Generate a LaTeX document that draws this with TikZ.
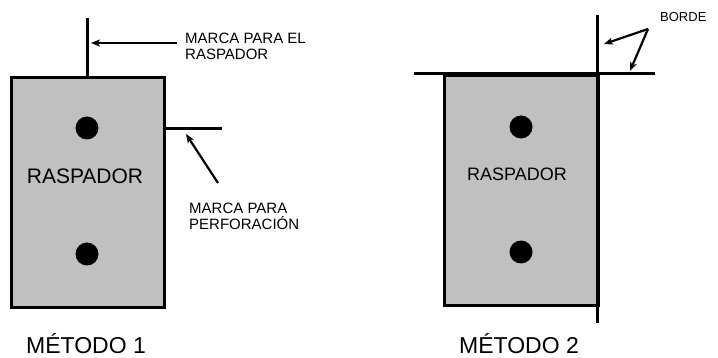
\documentclass[tikz,border=0pt]{standalone}
\usepackage{fontspec}
\setmainfont{Liberation Sans}
\usetikzlibrary{arrows.meta}
\definecolor{plate}{HTML}{C0C0C0}
\begin{document}
\begin{tikzpicture}[x=1pt,y=-1pt,
  platebox/.style={draw=black,fill=plate,line width=3pt},
  markline/.style={line width=3pt},
  hole/.style={circle,fill=black,minimum size=23pt,inner sep=0pt},
  callout/.style={line width=2.2pt,-{Stealth[length=9pt,width=7pt,inset=2.5pt]}},
  note/.style={font=\fontsize{15}{16}\selectfont,align=left,inner sep=0pt},
  title/.style={font=\fontsize{23}{24}\selectfont,inner sep=0pt,anchor=base}]
\useasboundingbox (0,0) rectangle (718,358);
% ---------- Method 1 ----------
\coordinate (m1top) at (87,18);
\coordinate (m1bot) at (87,76);
\draw[markline] (m1top) -- (m1bot);
\node[platebox,minimum width=153pt,minimum height=230pt,anchor=north west,inner sep=0pt] (p1) at (10,76) {};
\coordinate (h1a) at (163,129);
\coordinate (h1b) at (222,129);
\draw[markline] (h1a) -- (h1b);
\node[hole] (d1a) at (87,128) {};
\node[hole] (d1b) at (87,254) {};
\node[font=\fontsize{21}{22}\selectfont,inner sep=0pt] (r1) at (85,176) {RASPADOR};
\node[note,anchor=west] (n1) at (185,46) {MARCA PARA EL\\RASPADOR};
\coordinate (a1s) at (177,43);
\coordinate (a1e) at (91,43);
\draw[callout] (a1s) -- (a1e);
\node[note,anchor=west] (n2) at (189,216) {MARCA PARA\\PERFORACIÓN};
\coordinate (a2s) at (218,183);
\coordinate (a2e) at (186,134);
\draw[callout] (a2s) -- (a2e);
\node[title] (t1) at (86,353) {MÉTODO 1};
% ---------- Method 2 ----------
\node[platebox,minimum width=154pt,minimum height=230pt,anchor=north west,inner sep=0pt] (p2) at (443,74) {};
\coordinate (l2a) at (414,74);
\coordinate (l2b) at (655,74);
\draw[markline] (l2a) -- (l2b);
\coordinate (v2a) at (597,15);
\coordinate (v2b) at (597,323);
\draw[markline] (v2a) -- (v2b);
\node[hole] (d2a) at (521,127) {};
\node[hole] (d2b) at (521,252) {};
\node[font=\fontsize{18}{20}\selectfont,inner sep=0pt] (r2) at (517,174) {RASPADOR};
\node[font=\fontsize{13}{14}\selectfont,inner sep=0pt,anchor=west] (b) at (660,17) {BORDE};
\coordinate (apex) at (648,29);
\coordinate (be1) at (604,44);
\coordinate (be2) at (630,71);
\draw[callout] (apex) -- (be1);
\draw[callout] (apex) -- (be2);
\node[title] (t2) at (519,353) {MÉTODO 2};
\end{tikzpicture}
\end{document}
